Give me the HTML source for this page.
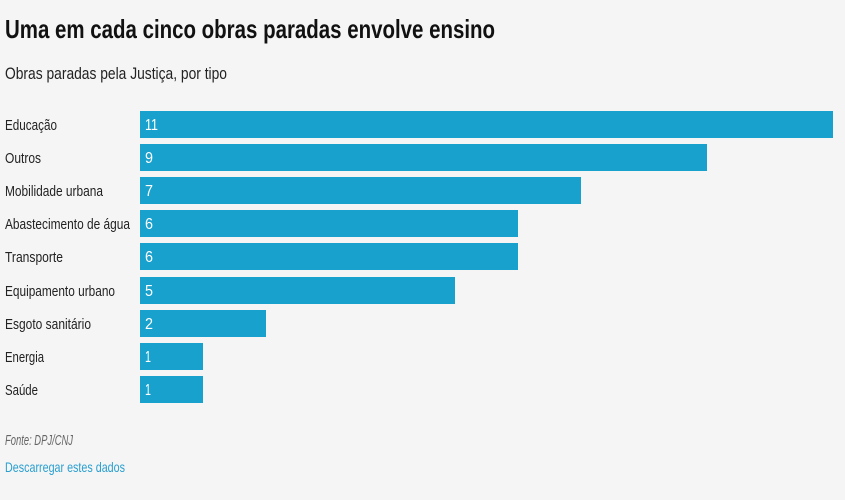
<!DOCTYPE html>
<html><head><meta charset="utf-8"><style>
html,body{margin:0;padding:0;background:#f5f5f5;}
svg{display:block;font-family:"Liberation Sans",sans-serif;}
</style></head><body>
<svg width="845" height="500" viewBox="0 0 845 500" xmlns="http://www.w3.org/2000/svg">
<rect width="845" height="500" fill="#f5f5f5"/>
<text x="5" y="38" font-size="26" font-weight="bold" fill="#111" textLength="490" lengthAdjust="spacingAndGlyphs">Uma em cada cinco obras paradas envolve ensino</text>
<text x="5" y="79" font-size="17" fill="#222" textLength="222" lengthAdjust="spacingAndGlyphs">Obras paradas pela Justiça, por tipo</text>
<g font-size="15" fill="#222">
<text x="5" y="130" textLength="52" lengthAdjust="spacingAndGlyphs">Educação</text>
<text x="5" y="163" textLength="36" lengthAdjust="spacingAndGlyphs">Outros</text>
<text x="5" y="196" textLength="98" lengthAdjust="spacingAndGlyphs">Mobilidade urbana</text>
<text x="5" y="229" textLength="125" lengthAdjust="spacingAndGlyphs">Abastecimento de água</text>
<text x="5" y="262" textLength="58" lengthAdjust="spacingAndGlyphs">Transporte</text>
<text x="5" y="296" textLength="110" lengthAdjust="spacingAndGlyphs">Equipamento urbano</text>
<text x="5" y="329" textLength="86" lengthAdjust="spacingAndGlyphs">Esgoto sanitário</text>
<text x="5" y="362" textLength="39" lengthAdjust="spacingAndGlyphs">Energia</text>
<text x="5" y="395" textLength="33" lengthAdjust="spacingAndGlyphs">Saúde</text>
</g>
<g fill="#18a1cd">
<rect x="140" y="111" width="693" height="27"/>
<rect x="140" y="144" width="567" height="27"/>
<rect x="140" y="177" width="441" height="27"/>
<rect x="140" y="210" width="378" height="27"/>
<rect x="140" y="243" width="378" height="27"/>
<rect x="140" y="277" width="315" height="27"/>
<rect x="140" y="310" width="126" height="27"/>
<rect x="140" y="343" width="63" height="27"/>
<rect x="140" y="376" width="63" height="27"/>
</g>
<g font-size="16" fill="#fff">
<text x="145" y="130" textLength="13" lengthAdjust="spacingAndGlyphs">11</text>
<text x="145" y="163" textLength="8" lengthAdjust="spacingAndGlyphs">9</text>
<text x="145" y="196" textLength="8" lengthAdjust="spacingAndGlyphs">7</text>
<text x="145" y="229" textLength="8" lengthAdjust="spacingAndGlyphs">6</text>
<text x="145" y="262" textLength="8" lengthAdjust="spacingAndGlyphs">6</text>
<text x="145" y="296" textLength="8" lengthAdjust="spacingAndGlyphs">5</text>
<text x="145" y="329" textLength="8" lengthAdjust="spacingAndGlyphs">2</text>
<text x="145" y="362" textLength="6" lengthAdjust="spacingAndGlyphs">1</text>
<text x="145" y="395" textLength="6" lengthAdjust="spacingAndGlyphs">1</text>
</g>
<text x="5" y="445" font-size="15" font-style="italic" fill="#666" textLength="68" lengthAdjust="spacingAndGlyphs">Fonte: DPJ/CNJ</text>
<text x="5" y="472" font-size="14" fill="#2a9fd0" textLength="120" lengthAdjust="spacingAndGlyphs">Descarregar estes dados</text>
</svg>
</body></html>
